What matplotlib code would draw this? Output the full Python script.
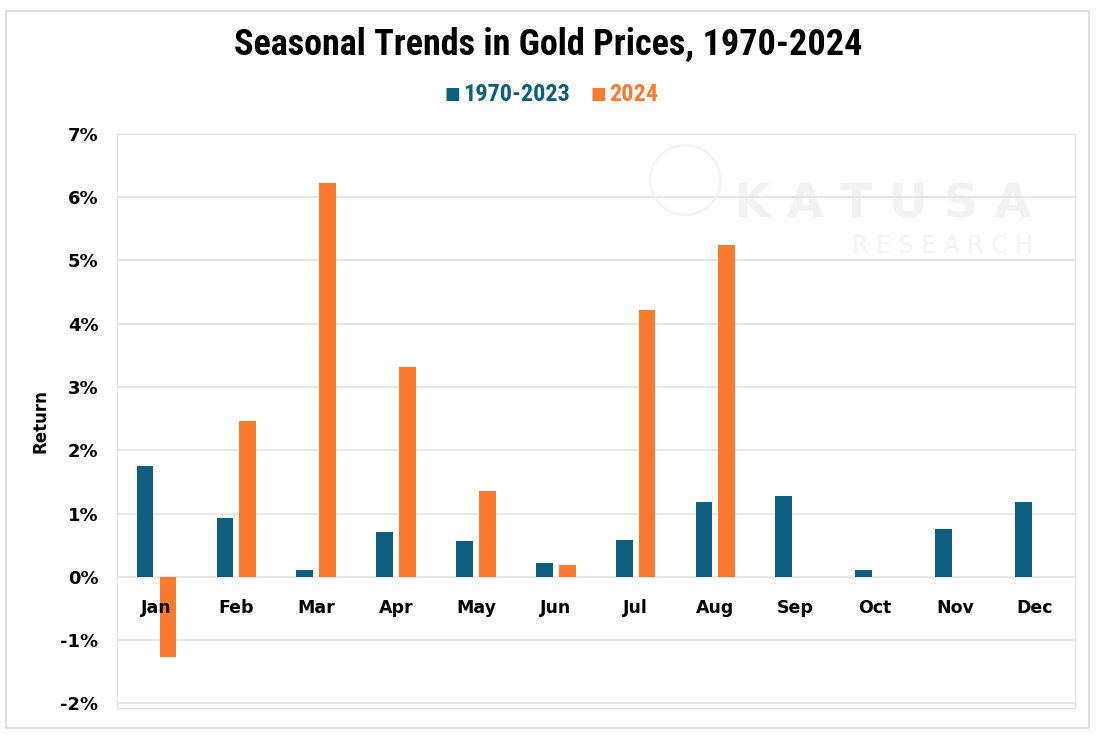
import numpy as np
import matplotlib.pyplot as plt
from matplotlib.patches import Rectangle, Ellipse
from matplotlib.ticker import FuncFormatter
from matplotlib import font_manager

months = ['Jan', 'Feb', 'Mar', 'Apr', 'May', 'Jun', 'Jul', 'Aug', 'Sep', 'Oct', 'Nov', 'Dec']
hist_1970_2023 = [1.75, 0.93, 0.10, 0.70, 0.57, 0.22, 0.58, 1.18, 1.28, 0.10, 0.76, 1.18]
ret_2024 = [-1.26, 2.46, 6.22, 3.32, 1.36, 0.19, 4.22, 5.24]

blue = '#0F5E80'
orange = '#FA7A30'

names = {f.name for f in font_manager.fontManager.ttflist}
narrow = 'Roboto'
for cand in ['Roboto Condensed', 'Open Sans Condensed', 'Liberation Sans Narrow', 'Noto Sans Condensed']:
    if cand in names:
        narrow = cand
        break

fig = plt.figure(figsize=(11, 7.35), dpi=100)
fig.patches.append(Rectangle((0.005, 0.01), 0.985, 0.975, transform=fig.transFigure,
                             fill=False, edgecolor='#d9d9d9', linewidth=1.2))

ax = fig.add_axes([0.106, 0.037, 0.871, 0.781])
x = np.arange(len(months))
w = 0.21
off = 0.143
ax.bar(x - off, hist_1970_2023, w, color=blue, zorder=2)
ax.bar(np.arange(len(ret_2024)) + off, ret_2024, w, color=orange, zorder=2)

ax.set_xlim(-0.5, 11.5)
ax.set_ylim(-2.07, 7.0)
ax.set_yticks(range(-2, 8))
ax.yaxis.set_major_formatter(FuncFormatter(lambda v, p: f'{int(v)}%'))
ax.tick_params(axis='y', length=0, pad=13, labelsize=13)
for lab in ax.get_yticklabels():
    lab.set_fontweight('bold')
ax.set_xticks([])
ax.grid(axis='y', color='#e3e3e3', linewidth=1.2, zorder=0)
for s in ax.spines.values():
    s.set_color('#e3e3e3')

for i, m in enumerate(months):
    ax.text(i, -0.49, m, ha='center', va='center', fontsize=12.5, fontweight='bold', zorder=3)

ax.set_ylabel('Return', fontsize=12, fontweight='bold', labelpad=8)

# faint watermark
ax.text(9.1, 5.88, 'K A T U S A', color='#f2f2f2', fontsize=34, fontweight='bold',
        ha='center', va='center', zorder=1)
ax.text(9.85, 5.22, 'R E S E A R C H', color='#f4f4f4', fontsize=17,
        ha='center', va='center', zorder=1)
fig.patches.append(Ellipse((0.623, 0.755), 0.064, 0.095, transform=fig.transFigure,
                           fill=False, edgecolor='#f3f3f3', linewidth=1.5))

fig.text(0.498, 0.939, 'Seasonal Trends in Gold Prices, 1970-2024', ha='center', va='center',
         fontsize=26, fontweight='bold', family=narrow)
fig.text(0.418, 0.872, '■', color=blue, ha='right', va='center', fontsize=12)
fig.text(0.421, 0.872, '1970-2023', color=blue, ha='left', va='center', fontsize=17.5,
         fontweight='bold', family=narrow)
fig.text(0.551, 0.872, '■', color=orange, ha='right', va='center', fontsize=12)
fig.text(0.554, 0.872, '2024', color=orange, ha='left', va='center', fontsize=17.5,
         fontweight='bold', family=narrow)

fig.savefig('out.png', dpi=100)
